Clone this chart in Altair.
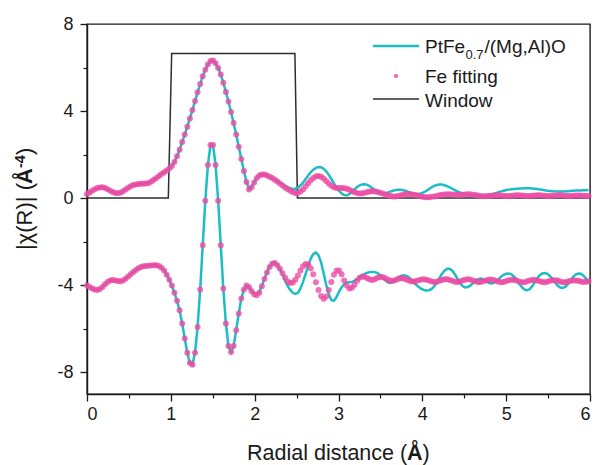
import altair as alt
import pandas as pd

# sampling grid of the R-space data (uniform step read from the dot spacing)
STEP = 0.03068
R = [round(i * STEP, 4) for i in range(196)]

# |chi(R)| magnitude, experimental (cyan line)
mag_data = [
    0.19, 0.26, 0.34, 0.41, 0.46, 0.49, 0.50, 0.47, 0.41, 0.34,
    0.28, 0.24, 0.22, 0.25, 0.32, 0.40, 0.48, 0.55, 0.60, 0.63,
    0.65, 0.66, 0.66, 0.67, 0.70, 0.76, 0.84, 0.93, 1.02, 1.11,
    1.19, 1.27, 1.36, 1.48, 1.66, 1.92, 2.22, 2.58, 2.92, 3.28,
    3.66, 4.05, 4.46, 4.86, 5.24, 5.60, 5.90, 6.14, 6.30, 6.32,
    6.20, 5.98, 5.68, 5.30, 4.88, 4.44, 3.96, 3.45, 2.92, 2.36,
    1.80, 1.25, 0.74, 0.40, 0.50, 0.72, 0.92, 1.04, 1.09, 1.08,
    1.04, 0.98, 0.92, 0.86, 0.79, 0.72, 0.64, 0.57, 0.50, 0.45,
    0.42, 0.43, 0.48, 0.58, 0.72, 0.88, 1.04, 1.19, 1.31, 1.39,
    1.43, 1.42, 1.35, 1.23, 1.07, 0.88, 0.68, 0.49, 0.33, 0.21,
    0.14, 0.13, 0.18, 0.28, 0.40, 0.51, 0.59, 0.63, 0.64, 0.61,
    0.54, 0.45, 0.36, 0.28, 0.23, 0.21, 0.22, 0.26, 0.30, 0.34,
    0.37, 0.38, 0.38, 0.36, 0.33, 0.28, 0.24, 0.21, 0.19, 0.19,
    0.22, 0.27, 0.34, 0.42, 0.50, 0.56, 0.60, 0.62, 0.62, 0.59,
    0.55, 0.49, 0.43, 0.37, 0.31, 0.26, 0.22, 0.19, 0.16, 0.14,
    0.12, 0.11, 0.10, 0.10, 0.10, 0.11, 0.13, 0.16, 0.19, 0.23,
    0.27, 0.31, 0.34, 0.37, 0.39, 0.41, 0.42, 0.43, 0.44, 0.44,
    0.45, 0.45, 0.45, 0.44, 0.43, 0.42, 0.40, 0.38, 0.36, 0.34,
    0.33, 0.32, 0.31, 0.30, 0.30, 0.30, 0.31, 0.32, 0.33, 0.34,
    0.35, 0.35, 0.35, 0.36, 0.36, 0.37,
]

# |chi(R)| magnitude, Fe fitting (pink dots)
mag_fit = [
    0.19, 0.26, 0.34, 0.41, 0.46, 0.49, 0.50, 0.47, 0.41, 0.34,
    0.28, 0.24, 0.22, 0.25, 0.32, 0.40, 0.48, 0.55, 0.60, 0.63,
    0.65, 0.66, 0.66, 0.67, 0.70, 0.76, 0.84, 0.93, 1.02, 1.11,
    1.19, 1.27, 1.36, 1.48, 1.66, 1.92, 2.22, 2.58, 2.92, 3.28,
    3.66, 4.05, 4.46, 4.86, 5.24, 5.60, 5.90, 6.14, 6.30, 6.32,
    6.20, 5.98, 5.68, 5.30, 4.88, 4.44, 3.96, 3.45, 2.92, 2.36,
    1.80, 1.25, 0.74, 0.40, 0.50, 0.72, 0.92, 1.04, 1.09, 1.08,
    1.04, 0.98, 0.92, 0.84, 0.76, 0.67, 0.58, 0.49, 0.41, 0.34,
    0.28, 0.24, 0.24, 0.30, 0.40, 0.54, 0.68, 0.82, 0.93, 1.00,
    1.02, 0.98, 0.90, 0.79, 0.67, 0.57, 0.50, 0.47, 0.46, 0.46,
    0.45, 0.43, 0.39, 0.33, 0.27, 0.23, 0.21, 0.22, 0.25, 0.28,
    0.30, 0.31, 0.30, 0.28, 0.25, 0.21, 0.17, 0.13, 0.10, 0.08,
    0.08, 0.10, 0.13, 0.16, 0.18, 0.19, 0.18, 0.16, 0.13, 0.10,
    0.07, 0.05, 0.04, 0.04, 0.06, 0.08, 0.10, 0.13, 0.15, 0.17,
    0.18, 0.18, 0.17, 0.15, 0.14, 0.14, 0.15, 0.17, 0.18, 0.18,
    0.16, 0.14, 0.12, 0.10, 0.09, 0.09, 0.10, 0.11, 0.12, 0.13,
    0.13, 0.12, 0.11, 0.10, 0.10, 0.11, 0.12, 0.13, 0.13, 0.12,
    0.11, 0.10, 0.10, 0.11, 0.12, 0.13, 0.13, 0.12, 0.11, 0.10,
    0.10, 0.11, 0.12, 0.13, 0.13, 0.12, 0.11, 0.10, 0.10, 0.11,
    0.12, 0.12, 0.12, 0.11, 0.10, 0.10,
]

# imaginary part (plotted with its -4 offset), experimental (cyan line)
im_data = [
    -4.00, -4.08, -4.15, -4.20, -4.22, -4.18, -4.08, -3.96, -3.85, -3.78,
    -3.76, -3.78, -3.81, -3.82, -3.78, -3.70, -3.60, -3.50, -3.40, -3.30,
    -3.22, -3.16, -3.13, -3.12, -3.11, -3.10, -3.08, -3.08, -3.12, -3.20,
    -3.33, -3.52, -3.75, -4.02, -4.35, -4.72, -5.15, -5.76, -6.45, -7.10,
    -7.58, -7.66, -7.10, -5.92, -4.20, -2.16, -0.12, 1.52, 2.44, 2.44,
    1.52, -0.12, -2.16, -4.15, -5.76, -6.80, -7.07, -6.80, -6.07, -5.30,
    -4.61, -4.20, -4.02, -4.10, -4.25, -4.38, -4.42, -4.30, -4.02, -3.70,
    -3.40, -3.15, -2.99, -2.95, -3.05, -3.25, -3.50, -3.78, -4.03, -4.22,
    -4.35, -4.40, -4.35, -4.15, -3.85, -3.48, -3.10, -2.78, -2.56, -2.50,
    -2.62, -2.95, -3.45, -3.98, -4.42, -4.68, -4.72, -4.55, -4.30, -4.10,
    -3.95, -3.88, -3.86, -3.85, -3.80, -3.72, -3.63, -3.55, -3.48, -3.43,
    -3.40, -3.39, -3.40, -3.45, -3.54, -3.66, -3.78, -3.87, -3.90, -3.86,
    -3.76, -3.65, -3.57, -3.54, -3.56, -3.63, -3.74, -3.86, -3.98, -4.09,
    -4.17, -4.22, -4.24, -4.23, -4.17, -4.05, -3.88, -3.68, -3.48, -3.33,
    -3.25, -3.25, -3.33, -3.50, -3.70, -3.90, -4.04, -4.10, -4.09, -4.02,
    -3.92, -3.81, -3.72, -3.69, -3.72, -3.80, -3.88, -3.92, -3.90, -3.82,
    -3.72, -3.61, -3.52, -3.47, -3.46, -3.50, -3.60, -3.75, -3.92, -4.08,
    -4.19, -4.23, -4.19, -4.06, -3.88, -3.69, -3.54, -3.46, -3.44, -3.48,
    -3.58, -3.72, -3.88, -4.02, -4.11, -4.13, -4.07, -3.94, -3.78, -3.62,
    -3.51, -3.46, -3.47, -3.56, -3.70, -3.84,
]

# imaginary part (plotted with its -4 offset), Fe fitting (pink dots)
im_fit = [
    -4.00, -4.08, -4.15, -4.20, -4.22, -4.18, -4.08, -3.96, -3.85, -3.78,
    -3.76, -3.78, -3.81, -3.82, -3.78, -3.70, -3.60, -3.50, -3.40, -3.30,
    -3.22, -3.16, -3.13, -3.12, -3.11, -3.10, -3.08, -3.08, -3.12, -3.20,
    -3.33, -3.52, -3.75, -4.02, -4.35, -4.72, -5.15, -5.76, -6.45, -7.10,
    -7.58, -7.66, -7.10, -5.92, -4.20, -2.16, -0.12, 1.52, 2.44, 2.44,
    1.52, -0.12, -2.16, -4.15, -5.76, -6.80, -7.07, -6.80, -6.07, -5.30,
    -4.61, -4.20, -4.02, -4.10, -4.28, -4.42, -4.46, -4.35, -4.05, -3.72,
    -3.42, -3.17, -3.02, -2.98, -3.08, -3.25, -3.45, -3.65, -3.82, -3.90,
    -3.88, -3.75, -3.55, -3.32, -3.13, -3.03, -3.05, -3.22, -3.50, -3.86,
    -4.22, -4.50, -4.62, -4.52, -4.22, -3.85, -3.52, -3.34, -3.33, -3.50,
    -3.78, -4.02, -4.15, -4.12, -3.98, -3.80, -3.66, -3.60, -3.62, -3.68,
    -3.74, -3.76, -3.72, -3.66, -3.62, -3.63, -3.68, -3.75, -3.80, -3.80,
    -3.76, -3.71, -3.68, -3.69, -3.73, -3.78, -3.82, -3.83, -3.81, -3.77,
    -3.74, -3.73, -3.75, -3.79, -3.83, -3.85, -3.84, -3.80, -3.76, -3.73,
    -3.73, -3.76, -3.80, -3.84, -3.85, -3.83, -3.79, -3.75, -3.73, -3.74,
    -3.78, -3.82, -3.85, -3.85, -3.82, -3.78, -3.75, -3.74, -3.76, -3.80,
    -3.84, -3.86, -3.85, -3.81, -3.77, -3.75, -3.76, -3.79, -3.83, -3.86,
    -3.86, -3.83, -3.79, -3.76, -3.76, -3.78, -3.82, -3.85, -3.86, -3.84,
    -3.80, -3.77, -3.77, -3.79, -3.83, -3.86, -3.86, -3.83, -3.80, -3.78,
    -3.78, -3.80, -3.83, -3.85, -3.84, -3.82,
]

# fitting window
win_R = [0.0, 0.97, 1.01, 2.48, 2.51, 6.0]
win_v = [0.0, 0.0, 6.65, 6.65, 0.0, 0.0]

# axis ticks
x_major = [0, 1, 2, 3, 4, 5, 6]
x_minor = [0.5, 1.5, 2.5, 3.5, 4.5, 5.5]
y_major = [-8, -4, 0, 4, 8]
y_minor = [-6, -2, 2, 6]

CYAN = "#1CBDC4"
PINK = "#EC4AA3"
WIN = "#2e2e2e"
INK = "#1a1a1a"
FONT = "Liberation Sans"

xs = alt.Scale(domain=[0, 6], nice=False, zero=False)
ys = alt.Scale(domain=[-9, 8], nice=False, zero=False)


def frame(x, y):
    return pd.DataFrame({"R": x, "v": y})


one = pd.DataFrame({"a": [0]})

ax_x_major = alt.Axis(values=x_major, orient="bottom", tickSize=7, tickWidth=1.3,
                      tickColor=INK, domainColor=INK, domainWidth=1.4,
                      labelFontSize=18, labelFont=FONT, labelColor=INK,
                      labelPadding=4, labelExpr="'' + datum.value",
                      grid=False, title=None)
ax_y_major = alt.Axis(values=y_major, orient="left", tickSize=7, tickWidth=1.3,
                      tickColor=INK, domainColor=INK, domainWidth=1.4,
                      labelFontSize=18, labelFont=FONT, labelColor=INK,
                      labelPadding=7, labelExpr="'' + datum.value",
                      grid=False, title=None)
ax_x_minor = alt.Axis(values=x_minor, orient="bottom", tickSize=4, tickWidth=1.2,
                      tickColor=INK, labels=False, domain=False, grid=False, title=None)
ax_y_minor = alt.Axis(values=y_minor, orient="left", tickSize=4, tickWidth=1.2,
                      tickColor=INK, labels=False, domain=False, grid=False, title=None)

window = alt.Chart(frame(win_R, win_v)).mark_line(color=WIN, strokeWidth=1.5).encode(
    x=alt.X("R:Q", scale=xs, axis=ax_x_major),
    y=alt.Y("v:Q", scale=ys, axis=ax_y_major),
)
minor = alt.Chart(frame(win_R, win_v)).mark_line(strokeOpacity=0).encode(
    x=alt.X("R:Q", scale=xs, axis=ax_x_minor),
    y=alt.Y("v:Q", scale=ys, axis=ax_y_minor),
)


def line(vals):
    return alt.Chart(frame(R, vals)).mark_line(color=CYAN, strokeWidth=2.5).encode(
        x=alt.X("R:Q", scale=xs, axis=None),
        y=alt.Y("v:Q", scale=ys, axis=None),
    )


def dots(vals):
    return alt.Chart(frame(R, vals)).mark_circle(color=PINK, size=36, opacity=0.78).encode(
        x=alt.X("R:Q", scale=xs, axis=None),
        y=alt.Y("v:Q", scale=ys, axis=None),
    )


def txt(s, x, y, size, weight="normal", angle=0):
    return alt.Chart(one).mark_text(text=s, align="left", baseline="alphabetic",
                                    fontSize=size, font=FONT, fontWeight=weight,
                                    color=INK, angle=angle).encode(
        x=alt.value(x), y=alt.value(y))


# legend (manual, to allow the subscript)
leg = [
    alt.Chart(one).mark_rule(color=CYAN, strokeWidth=2.5).encode(
        x=alt.value(286), x2=alt.value(332), y=alt.value(22)),
    alt.Chart(one).mark_circle(color=PINK, size=18, opacity=0.85).encode(
        x=alt.value(309), y=alt.value(52)),
    alt.Chart(one).mark_rule(color=WIN, strokeWidth=1.5).encode(
        x=alt.value(286), x2=alt.value(332), y=alt.value(75)),
    txt("PtFe", 338, 29, 19),
    txt("0.7", 378.5, 35, 13),
    txt("/(Mg,Al)O", 397.5, 29, 19),
    txt("Fe fitting", 338, 59, 19),
    txt("Window", 338, 83, 19),
]

# axis titles (manual, bold Å)
titles = [
    txt("Radial distance (", 160, 436, 21.5),
    txt("Å", 320, 436, 21.5, "bold"),
    txt(")", 335.5, 436, 21.5),
    txt("|χ(R)| (", -55, 226, 22, angle=270),
    txt("Å", -55, 160, 22, "bold", angle=270),
    txt("-4", -62.5, 144, 14.5, "bold", angle=270),
    txt(")", -55, 131, 22, angle=270),
]

chart = alt.layer(
    window, minor,
    line(mag_data), line(im_data),
    dots(mag_fit), dots(im_fit),
    *leg, *titles,
).resolve_axis(x="independent", y="independent").properties(
    width=503, height=370,
    padding={"left": 87, "top": 24, "right": 6, "bottom": 71},
    autosize=alt.AutoSizeParams(type="none"),
    background="white",
).configure_view(stroke=INK, strokeWidth=1.4)

chart.save("out.html", embed_options={"renderer": "svg", "actions": False})
